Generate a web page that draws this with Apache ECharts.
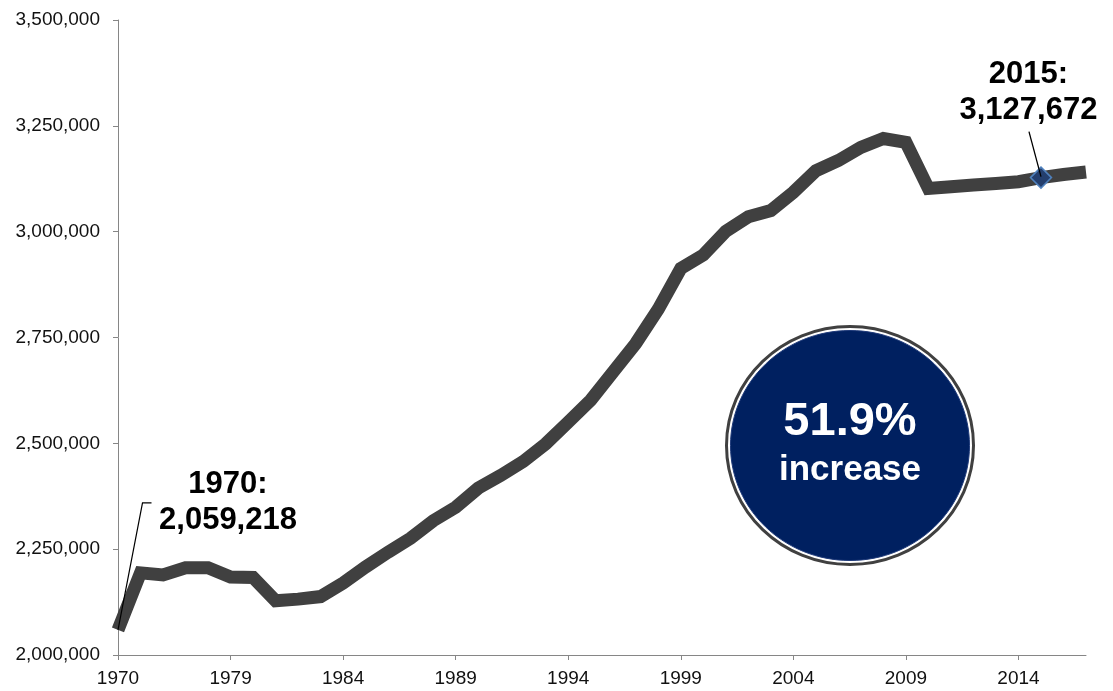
<!DOCTYPE html>
<html>
<head>
<meta charset="utf-8">
<script src="https://cdn.jsdelivr.net/npm/echarts@6/dist/echarts.min.js"></script>
<style>
html,body{margin:0;padding:0;background:#fff;}
#chart{width:1113px;height:691px;}
</style>
</head>
<body>
<div id="chart"></div>
<script>
var years = ['1970','1975','1976','1977','1978','1979','1980','1981','1982','1983',
  '1984','1985','1986','1987','1988','1989','1990','1991','1992','1993',
  '1994','1995','1996','1997','1998','1999','2000','2001','2002','2003',
  '2004','2005','2006','2007','2008','2009','2010','2011','2012','2013',
  '2014','2015','2016','2017'];

var population = [2059218,2194000,2189000,2206000,2206000,2184000,2183000,2128000,2132000,2138000,
  2170000,2208000,2243000,2276000,2317000,2349000,2394000,2424000,2457000,2499000,
  2550000,2602000,2669000,2736000,2817000,2913000,2945000,3001000,3035000,3050000,
  3093000,3144000,3168000,3199000,3220000,3211000,3102000,3106000,3110000,3114000,
  3118000,3127672,3135000,3141000];

var yTicks = [2000000, 2250000, 2500000, 2750000, 3000000, 3250000, 3500000];

var startYear = '1970';
var markedYear = '2015';
var increaseText = '51.9%';
var increaseWord = 'increase';

var FONT = '"Liberation Sans", Arial, Helvetica, sans-serif';
var AXIS_GRAY = '#868686';

function fmt(v){ return Number(v).toLocaleString('en-US'); }

var markedIdx = years.indexOf(markedYear);
var startIdx = years.indexOf(startYear);

var seriesData = population.map(function(v, i){
  if (i === markedIdx) {
    return {
      value: v,
      symbol: 'diamond',
      symbolSize: 21,
      itemStyle: {color: '#243f6e', borderColor: '#4f81bd', borderWidth: 1.5}
    };
  }
  return v;
});

var chart = echarts.init(document.getElementById('chart'), null, {renderer: 'canvas'});

chart.setOption({
  animation: false,
  backgroundColor: '#ffffff',
  grid: {left: 118, right: 27, top: 20, bottom: 36, containLabel: false},
  xAxis: {
    type: 'category',
    data: years,
    boundaryGap: false,
    axisLine: {show: true, lineStyle: {color: AXIS_GRAY, width: 1}},
    axisTick: {show: true, interval: 4, length: 5, lineStyle: {color: AXIS_GRAY}},
    axisLabel: {interval: 4, margin: 14, color: '#111', fontSize: 19, fontFamily: FONT},
    splitLine: {show: false}
  },
  yAxis: {
    type: 'value',
    min: yTicks[0],
    max: yTicks[yTicks.length - 1],
    interval: yTicks[1] - yTicks[0],
    axisLine: {show: true, lineStyle: {color: AXIS_GRAY, width: 1}},
    axisTick: {show: true, length: 5, lineStyle: {color: AXIS_GRAY}},
    axisLabel: {margin: 18, color: '#111', fontSize: 19, fontFamily: FONT, formatter: fmt},
    splitLine: {show: false}
  },
  series: [{
    type: 'line',
    data: seriesData,
    symbol: 'none',
    showSymbol: true,
    showAllSymbol: true,
    lineStyle: {color: '#404040', width: 13, cap: 'butt', join: 'miter'},
    itemStyle: {color: '#404040'},
    z: 3
  }]
});

var p0 = chart.convertToPixel({seriesIndex: 0}, [startIdx, population[startIdx]]);
var p1 = chart.convertToPixel({seriesIndex: 0}, [markedIdx, population[markedIdx]]);

chart.setOption({
  graphic: [
    {
      type: 'polyline', z: 20,
      shape: {points: [[p0[0], p0[1]], [p0[0] + 24.5, p0[1] - 127], [p0[0] + 33.5, p0[1] - 127]]},
      style: {stroke: '#000', lineWidth: 1.2, fill: null}
    },
    {
      type: 'text', z: 20,
      x: p0[0] + 110, y: p0[1] - 127,
      style: {
        text: startYear + ':\n' + fmt(population[startIdx]),
        fill: '#000', font: 'bold 31px ' + FONT,
        align: 'center', verticalAlign: 'middle', lineHeight: 36
      }
    },
    {
      type: 'line', z: 20,
      shape: {x1: p1[0] - 12, y1: p1[1] - 46, x2: p1[0], y2: p1[1] - 1},
      style: {stroke: '#000', lineWidth: 1.3}
    },
    {
      type: 'text', z: 20,
      x: p1[0] - 12.5, y: p1[1] - 85.5,
      style: {
        text: markedYear + ':\n' + fmt(population[markedIdx]),
        fill: '#000', font: 'bold 31px ' + FONT,
        align: 'center', verticalAlign: 'middle', lineHeight: 36
      }
    },
    {
      type: 'ellipse', z: 10,
      shape: {cx: 850, cy: 445.5, rx: 123.5, ry: 119},
      style: {fill: '#ffffff', stroke: '#404040', lineWidth: 3}
    },
    {
      type: 'ellipse', z: 11,
      shape: {cx: 850, cy: 445.5, rx: 119.5, ry: 115},
      style: {fill: '#002060', stroke: '#1f3a7a', lineWidth: 1}
    },
    {
      type: 'text', z: 12,
      x: 850, y: 422.5,
      style: {text: increaseText, fill: '#ffffff', font: 'bold 47px ' + FONT, align: 'center', verticalAlign: 'middle'}
    },
    {
      type: 'text', z: 12,
      x: 850, y: 470,
      style: {text: increaseWord, fill: '#ffffff', font: 'bold 35px ' + FONT, align: 'center', verticalAlign: 'middle'}
    }
  ]
});
</script>
</body>
</html>
